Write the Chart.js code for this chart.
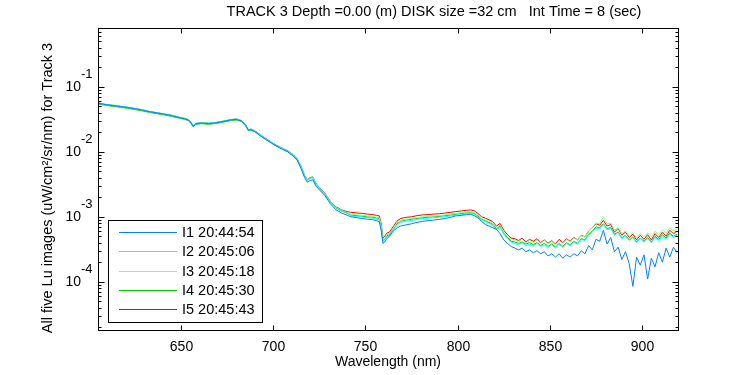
<!DOCTYPE html>
<html>
<head>
<meta charset="utf-8">
<script src="https://cdn.jsdelivr.net/npm/chart.js@4"></script>
<style>
  html, body { margin: 0; padding: 0; background: #fff; }
  #wrap { width: 750px; height: 375px; }
</style>
</head>
<body>
<div id="wrap"><canvas id="chart" width="750" height="375"></canvas></div>
<script>
// wavelength grid shared by all five images (nm)
var wavelength = [
  605,609,613,617,621,625,629,633,637,641,645,649,652,654,655.5,656.5,658,661,665,669,
  673,677,680,683,685,686.5,688,690,693,696,699,702,705,708,711,713,715,717,718.5,720,
  721.5,723,725,728,731,734,737,740,
  742,745,748,751,754,756,757.5,758.5,759.5,760.5,761.5,763,765,767,769,772,775,778,781,784,
  787,790,793,796,799,802,805,807,809,811,813,815,817,819,821,823,825,827,829,
  831,833,835,837,839,841,843,845,847,849,851,853,855,857,859,861,863,865,867,869,
  871,873,875,877,879,881,883,885,887,889,891,893,895,897,899,901,903,905,907,909,
  911,913,915,917,919
];

var seriesNames = ['I1 20:44:54', 'I2 20:45:06', 'I3 20:45:18', 'I4 20:45:30', 'I5 20:45:43'];
var seriesColors = ['#0080ff', '#00ffff', '#80ff80', '#00cc00', '#ff0000'];

var lu1 = [
  0.0560,0.0530,0.0512,0.0497,0.0478,0.0458,0.0437,0.0412,0.0395,0.0377,0.0358,0.0336,0.0321,0.0308,0.0276,0.0246,0.0268,0.0276,0.0270,0.0279,
  0.0292,0.0309,0.0314,0.0295,0.0256,0.0214,0.0218,0.0205,0.0176,0.0155,0.0136,0.0121,0.0109,0.0099,0.0085,0.0074,0.0056,0.0040,0.0034,0.0036,
  0.0037,0.0030,0.0026,0.00212,0.00158,0.00128,0.00114,0.00106,
  0.001,0.00097,0.00094,0.00092,0.0009,0.00087,0.00084,0.00062,0.00039,0.00041,0.00046,0.0005,0.0006,0.00067,0.00072,0.00075,0.00078,0.00082,0.00085,0.00087,
  0.00089,0.00091,0.00094,0.00098,0.00103,0.00105,0.00108,0.00109,0.00104,0.00096,0.00085,0.00076,0.00072,0.00068,0.00064,0.00055,0.00044,0.00039,0.00035,
  0.00033,0.00031,0.00033,0.00029,0.00031,0.00028,0.0003,0.00027,0.00029,0.00025,0.00027,0.00024,0.00027,0.00023,0.00026,0.00024,0.00027,0.00025,0.0003,0.00027,
  0.00036,0.00031,0.00045,0.00042,0.00062,0.00038,0.00048,0.00029,0.00034,0.00022,0.00029,0.00019,0.000085,0.00024,0.00018,0.00026,0.00011,0.00023,0.00017,0.00028,
  0.0002,0.00033,0.00024,0.00034,0.00028
];
var lu2 = [
  0.0570,0.0530,0.0522,0.0496,0.0487,0.0458,0.0445,0.0411,0.0402,0.0376,0.0366,0.0337,0.0328,0.0309,0.0283,0.0247,0.0275,0.0277,0.0276,0.0279,
  0.0298,0.0309,0.0321,0.0297,0.0265,0.0215,0.0224,0.0207,0.0184,0.0158,0.0141,0.0123,0.0114,0.0101,0.0090,0.0076,0.0061,0.0042,0.0037,0.0039,
  0.0041,0.0032,0.0028,0.00226,0.00170,0.00139,0.00126,0.00116,
  0.00103,0.00101,0.00099,0.00097,0.00095,0.00092,0.0009,0.00069,0.00042,0.00044,0.00049,0.00051,0.00062,0.00074,0.00082,0.00086,0.00088,0.00091,0.00094,0.00095,
  0.00097,0.00098,0.001,0.00103,0.00106,0.00108,0.00111,0.00112,0.00109,0.00099,0.00088,0.00083,0.00079,0.00074,0.00063,0.00069,0.00054,0.00046,0.00041,
  0.00039,0.00037,0.0004,0.00036,0.00038,0.00035,0.00039,0.00035,0.00037,0.00034,0.00037,0.00033,0.00038,0.00034,0.00039,0.00036,0.00041,0.00038,0.00045,0.00043,
  0.00052,0.00058,0.00067,0.00065,0.00076,0.00063,0.00066,0.00052,0.00057,0.00046,0.00051,0.00043,0.00048,0.0004,0.00046,0.00041,0.00047,0.0004,0.00048,0.00043,
  0.0005,0.00045,0.00054,0.00048,0.00052
];
var lu3 = [
  0.0562,0.0532,0.0515,0.0498,0.0480,0.0460,0.0438,0.0413,0.0396,0.0378,0.0360,0.0338,0.0323,0.0310,0.0278,0.0248,0.0270,0.0278,0.0271,0.0280,
  0.0293,0.0310,0.0316,0.0298,0.0260,0.0216,0.0220,0.0208,0.0180,0.0158,0.0138,0.0123,0.0111,0.0101,0.0087,0.0076,0.0059,0.0042,0.0036,0.0039,
  0.0040,0.0032,0.0027,0.00225,0.00168,0.00138,0.00124,0.00116,
  0.0011,0.00108,0.00106,0.00103,0.00101,0.00099,0.00097,0.00075,0.00044,0.00047,0.00053,0.00055,0.00066,0.0008,0.00088,0.00092,0.00094,0.00097,0.001,0.00101,
  0.00103,0.00104,0.00107,0.0011,0.00113,0.00116,0.00118,0.00119,0.00117,0.00106,0.00094,0.00089,0.00085,0.00079,0.00068,0.00074,0.00058,0.0005,0.00044,
  0.00044,0.00041,0.00045,0.0004,0.00043,0.0004,0.00044,0.00039,0.00043,0.00038,0.00042,0.00037,0.00043,0.00039,0.00045,0.00041,0.00047,0.00044,0.00051,0.00049,
  0.00059,0.00068,0.0008,0.00078,0.001,0.00078,0.0008,0.00062,0.00068,0.00055,0.00061,0.0005,0.00057,0.00047,0.00055,0.00049,0.00057,0.00049,0.0006,0.00053,
  0.00063,0.00056,0.00068,0.0006,0.00065
];
var lu4 = [
  0.0545,0.0518,0.0500,0.0484,0.0466,0.0446,0.0425,0.0402,0.0385,0.0367,0.0350,0.0329,0.0314,0.0302,0.0271,0.0242,0.0263,0.0271,0.0264,0.0273,
  0.0285,0.0302,0.0308,0.0291,0.0254,0.0211,0.0215,0.0203,0.0176,0.0155,0.0136,0.0121,0.0110,0.0100,0.0086,0.0075,0.0058,0.0042,0.0036,0.0039,
  0.0040,0.0032,0.0027,0.00222,0.00165,0.00136,0.00122,0.00114,
  0.00106,0.00104,0.00102,0.001,0.00098,0.00096,0.00094,0.00072,0.00043,0.00046,0.00051,0.00053,0.00064,0.00077,0.00085,0.00089,0.00091,0.00094,0.00097,0.00098,
  0.001,0.00101,0.00104,0.00106,0.00109,0.00112,0.00115,0.00116,0.00113,0.00103,0.00092,0.00087,0.00082,0.00077,0.00066,0.00072,0.00056,0.00048,0.00042,
  0.00041,0.00039,0.00041,0.00038,0.0004,0.00037,0.0004,0.00036,0.00039,0.00035,0.00038,0.00034,0.00039,0.00035,0.0004,0.00037,0.00042,0.00039,0.00046,0.00044,
  0.00054,0.0006,0.0007,0.00068,0.00078,0.00066,0.00068,0.00054,0.00058,0.00047,0.00052,0.00044,0.00049,0.00041,0.00047,0.00042,0.00048,0.00041,0.0005,0.00045,
  0.00053,0.00047,0.00056,0.0005,0.00054
];
var lu5 = [
  0.0565,0.0535,0.0518,0.0500,0.0482,0.0462,0.0440,0.0415,0.0398,0.0380,0.0362,0.0340,0.0325,0.0312,0.0280,0.0250,0.0272,0.0280,0.0273,0.0282,
  0.0295,0.0312,0.0318,0.0300,0.0262,0.0218,0.0222,0.0210,0.0182,0.0160,0.0140,0.0125,0.0113,0.0103,0.0089,0.0078,0.0060,0.0043,0.0037,0.0040,
  0.0041,0.0033,0.0028,0.0023,0.00172,0.00142,0.00128,0.00120,
  0.00117,0.00115,0.00113,0.0011,0.00108,0.00105,0.00103,0.0008,0.00047,0.0005,0.00056,0.00058,0.0007,0.00085,0.00094,0.00098,0.001,0.00104,0.00107,0.00108,
  0.0011,0.00111,0.00114,0.00117,0.0012,0.00123,0.00126,0.00127,0.00124,0.00112,0.001,0.00095,0.0009,0.00084,0.00072,0.00079,0.00062,0.00053,0.00047,
  0.00046,0.00043,0.00047,0.00041,0.00045,0.00042,0.00046,0.0004,0.00044,0.00039,0.00043,0.00038,0.00045,0.0004,0.00046,0.00042,0.00048,0.00044,0.00052,0.00049,
  0.0006,0.00068,0.00078,0.00074,0.00088,0.00072,0.00076,0.00058,0.00066,0.00052,0.00058,0.00048,0.00054,0.00044,0.00052,0.00045,0.00053,0.00044,0.00055,0.00048,
  0.00058,0.0005,0.00062,0.00055,0.0006
];

var xTicks = [650, 700, 750, 800, 850, 900];
var yDecades = [-1, -2, -3, -4];
var titleText = 'TRACK 3 Depth =0.00 (m) DISK size =32 cm   Int Time = 8 (sec)';
var xTitle = 'Wavelength (nm)';
var yTitle = 'All five Lu images (uW/cm\u00b2/sr/nm) for Track 3';

var allSeries = [lu1, lu2, lu3, lu4, lu5];
var FONT = "'Liberation Sans', Arial, sans-serif";

function line(ctx, x1, y1, x2, y2) {
  ctx.beginPath();
  ctx.moveTo(x1, y1);
  ctx.lineTo(x2, y2);
  ctx.stroke();
}

// matlab style frame, inward ticks, labels and legend
var matlabAxes = {
  id: 'matlabAxes',
  afterDraw: function (chart) {
    var ctx = chart.ctx;
    var a = chart.chartArea;
    var x = chart.scales.x, y = chart.scales.y;
    var L = Math.round(a.left) + 0.5, R = Math.round(a.right) - 0.5;
    var T = Math.round(a.top) + 0.5, B = Math.round(a.bottom) - 0.5;
    ctx.save();
    ctx.strokeStyle = '#000';
    ctx.lineWidth = 1;
    ctx.strokeRect(L, T, R - L, B - T);

    ctx.fillStyle = '#000';
    ctx.font = '14px ' + FONT;
    ctx.textAlign = 'center';
    ctx.textBaseline = 'middle';
    xTicks.forEach(function (v) {
      var px = Math.round(x.getPixelForValue(v)) + 0.5;
      line(ctx, px, B, px, B - 5);
      line(ctx, px, T, px, T + 5);
      ctx.fillText(String(v), px, B + 17);
    });

    for (var e = -5; e <= 0; e++) {
      for (var m = 1; m <= 9; m++) {
        var v = m * Math.pow(10, e);
        if (v < y.min || v > y.max) continue;
        var py = Math.round(y.getPixelForValue(v)) + 0.5;
        var len = m === 1 ? 6 : 3;
        line(ctx, L, py, L + len, py);
        line(ctx, R, py, R - len, py);
      }
    }
    yDecades.forEach(function (d) {
      var py = y.getPixelForValue(Math.pow(10, d));
      ctx.font = '14px ' + FONT;
      ctx.textAlign = 'right';
      ctx.fillText('10', 81, py);
      ctx.font = '13px ' + FONT;
      ctx.textAlign = 'left';
      ctx.fillText(String(d), 81, py - 12);
    });

    ctx.font = '14.5px ' + FONT;
    ctx.textAlign = 'center';
    ctx.fillText(titleText, 434, 12);
    ctx.font = '14px ' + FONT;
    ctx.fillText(xTitle, 388, 362);
    ctx.save();
    ctx.translate(48, 188);
    ctx.rotate(-Math.PI / 2);
    ctx.font = '14.5px ' + FONT;
    ctx.fillText(yTitle, 0, 0);
    ctx.restore();

    // legend box
    ctx.fillStyle = '#fff';
    ctx.fillRect(108.5, 220.5, 154, 102);
    ctx.strokeRect(108.5, 220.5, 154, 102);
    ctx.textAlign = 'left';
    ctx.font = '14.5px ' + FONT;
    chart.data.datasets.forEach(function (ds, i) {
      var ly = Math.round(232 + i * 19.3) + 0.5;
      ctx.strokeStyle = ds.borderColor;
      line(ctx, 119, ly, 177, ly);
      ctx.fillStyle = '#000';
      ctx.fillText(ds.label, 182, ly);
    });
    ctx.restore();
  }
};

var datasets = allSeries.map(function (vals, i) {
  return {
    label: seriesNames[i],
    data: vals.map(function (v, k) { return { x: wavelength[k], y: v }; }),
    borderColor: seriesColors[i],
    borderWidth: 1,
    pointRadius: 0,
    tension: 0,
    fill: false
  };
});

new Chart(document.getElementById('chart'), {
  type: 'line',
  data: { datasets: datasets },
  options: {
    responsive: false,
    animation: false,
    layout: { padding: { left: 98, right: 71, top: 28, bottom: 44 } },
    plugins: { legend: { display: false }, tooltip: { enabled: false }, title: { display: false } },
    scales: {
      x: { type: 'linear', display: false, min: 605, max: 920 },
      y: { type: 'logarithmic', display: false, min: 1.75e-5, max: 0.8 }
    }
  },
  plugins: [matlabAxes]
});
</script>
</body>
</html>
